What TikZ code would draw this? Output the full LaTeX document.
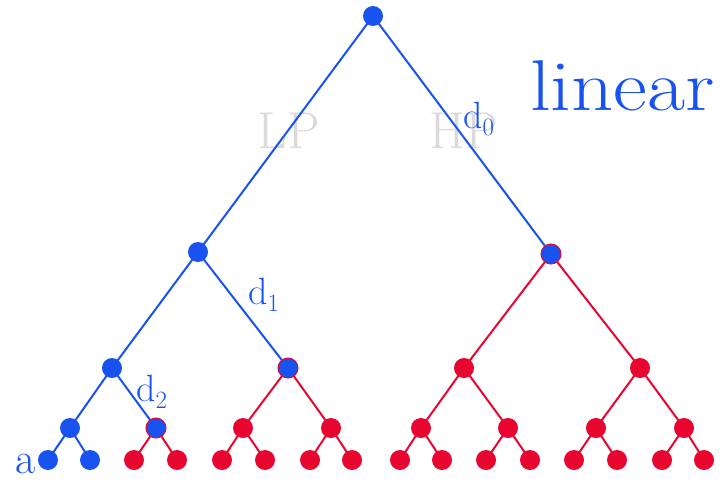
\documentclass[tikz,border=0pt]{standalone}
\usepackage{fontspec}
\definecolor{tb}{RGB}{24,82,240}
\definecolor{tr}{RGB}{232,6,48}
\definecolor{tg}{RGB}{218,218,218}
\begin{document}
\begin{tikzpicture}[x=1pt,y=-1pt,
  bn/.style={circle,fill=tb,inner sep=0pt,minimum size=20pt},
  rn/.style={circle,fill=tr,inner sep=0pt,minimum size=20pt},
  mn/.style={circle,fill=tb,draw=tr,line width=1pt,inner sep=0pt,minimum size=20pt},
  be/.style={draw=tb,line width=2pt},
  re/.style={draw=tr,line width=2pt},
  lbl/.style={text=tb,inner sep=0pt,anchor=base west}]
\useasboundingbox (0,0) rectangle (728,482);
% coordinates
\coordinate (r) at (373,16);
\coordinate (a1) at (198,252); \coordinate (a2) at (551,254);
\coordinate (b1) at (112,368); \coordinate (b2) at (288,368);
\coordinate (b3) at (464,368); \coordinate (b4) at (640,368);
\coordinate (c1) at (70,428); \coordinate (c2) at (156,428);
\coordinate (c3) at (243,428); \coordinate (c4) at (331,428);
\coordinate (c5) at (421,428); \coordinate (c6) at (508,428);
\coordinate (c7) at (596,428); \coordinate (c8) at (684,428);
\coordinate (e1) at (48,460); \coordinate (e2) at (90,460);
\coordinate (e3) at (134,460); \coordinate (e4) at (177,460);
\coordinate (e5) at (222,460); \coordinate (e6) at (265,460);
\coordinate (e7) at (310,460); \coordinate (e8) at (352,460);
\coordinate (e9) at (400,460); \coordinate (e10) at (442,460);
\coordinate (e11) at (486,460); \coordinate (e12) at (530,460);
\coordinate (e13) at (574,460); \coordinate (e14) at (617,460);
\coordinate (e15) at (662,460); \coordinate (e16) at (704,460);
% grey labels
\node[text=tg,inner sep=0pt,anchor=base] (lp) at (289,148) {\fontsize{52}{52}\selectfont LP};
\node[text=tg,inner sep=0pt,anchor=base] (hp) at (464,148) {\fontsize{52}{52}\selectfont HP};
% edges
\draw[be] (r) -- (a1); \draw[be] (r) -- (a2);
\draw[be] (a1) -- (b1); \draw[be] (a1) -- (b2);
\draw[be] (b1) -- (c1); \draw[be] (b1) -- (c2);
\draw[be] (c1) -- (e1); \draw[be] (c1) -- (e2);
\draw[re] (a2) -- (b3); \draw[re] (a2) -- (b4);
\draw[re] (b2) -- (c3); \draw[re] (b2) -- (c4);
\draw[re] (b3) -- (c5); \draw[re] (b3) -- (c6);
\draw[re] (b4) -- (c7); \draw[re] (b4) -- (c8);
\draw[re] (c2) -- (e3); \draw[re] (c2) -- (e4);
\draw[re] (c3) -- (e5); \draw[re] (c3) -- (e6);
\draw[re] (c4) -- (e7); \draw[re] (c4) -- (e8);
\draw[re] (c5) -- (e9); \draw[re] (c5) -- (e10);
\draw[re] (c6) -- (e11); \draw[re] (c6) -- (e12);
\draw[re] (c7) -- (e13); \draw[re] (c7) -- (e14);
\draw[re] (c8) -- (e15); \draw[re] (c8) -- (e16);
% nodes
\node[bn] (nr) at (r) {};
\node[bn] (na1) at (a1) {}; \node[mn] (na2) at (a2) {};
\node[bn] (nb1) at (b1) {}; \node[mn] (nb2) at (b2) {};
\node[rn] (nb3) at (b3) {}; \node[rn] (nb4) at (b4) {};
\node[bn] (nc1) at (c1) {}; \node[mn] (nc2) at (c2) {};
\foreach \i in {3,...,8} {\node[rn] (nc\i) at (c\i) {};}
\node[bn] (ne1) at (e1) {}; \node[bn] (ne2) at (e2) {};
\foreach \i in {3,...,16} {\node[rn] (ne\i) at (e\i) {};}
% blue labels
\node[lbl,xscale=1.15] (lin) at (530,110) {\fontsize{72}{72}\selectfont linear};
\node[lbl] (d0) at (463,128) {\fontsize{38}{38}\selectfont$\mathrm{d}_0$};
\node[lbl] (d1) at (248,304) {\fontsize{38}{38}\selectfont$\mathrm{d}_1$};
\node[lbl] (d2) at (136,401) {\fontsize{38}{38}\selectfont$\mathrm{d}_2$};
\node[lbl] (la) at (15,473) {\fontsize{44}{44}\selectfont a};
\end{tikzpicture}
\end{document}
